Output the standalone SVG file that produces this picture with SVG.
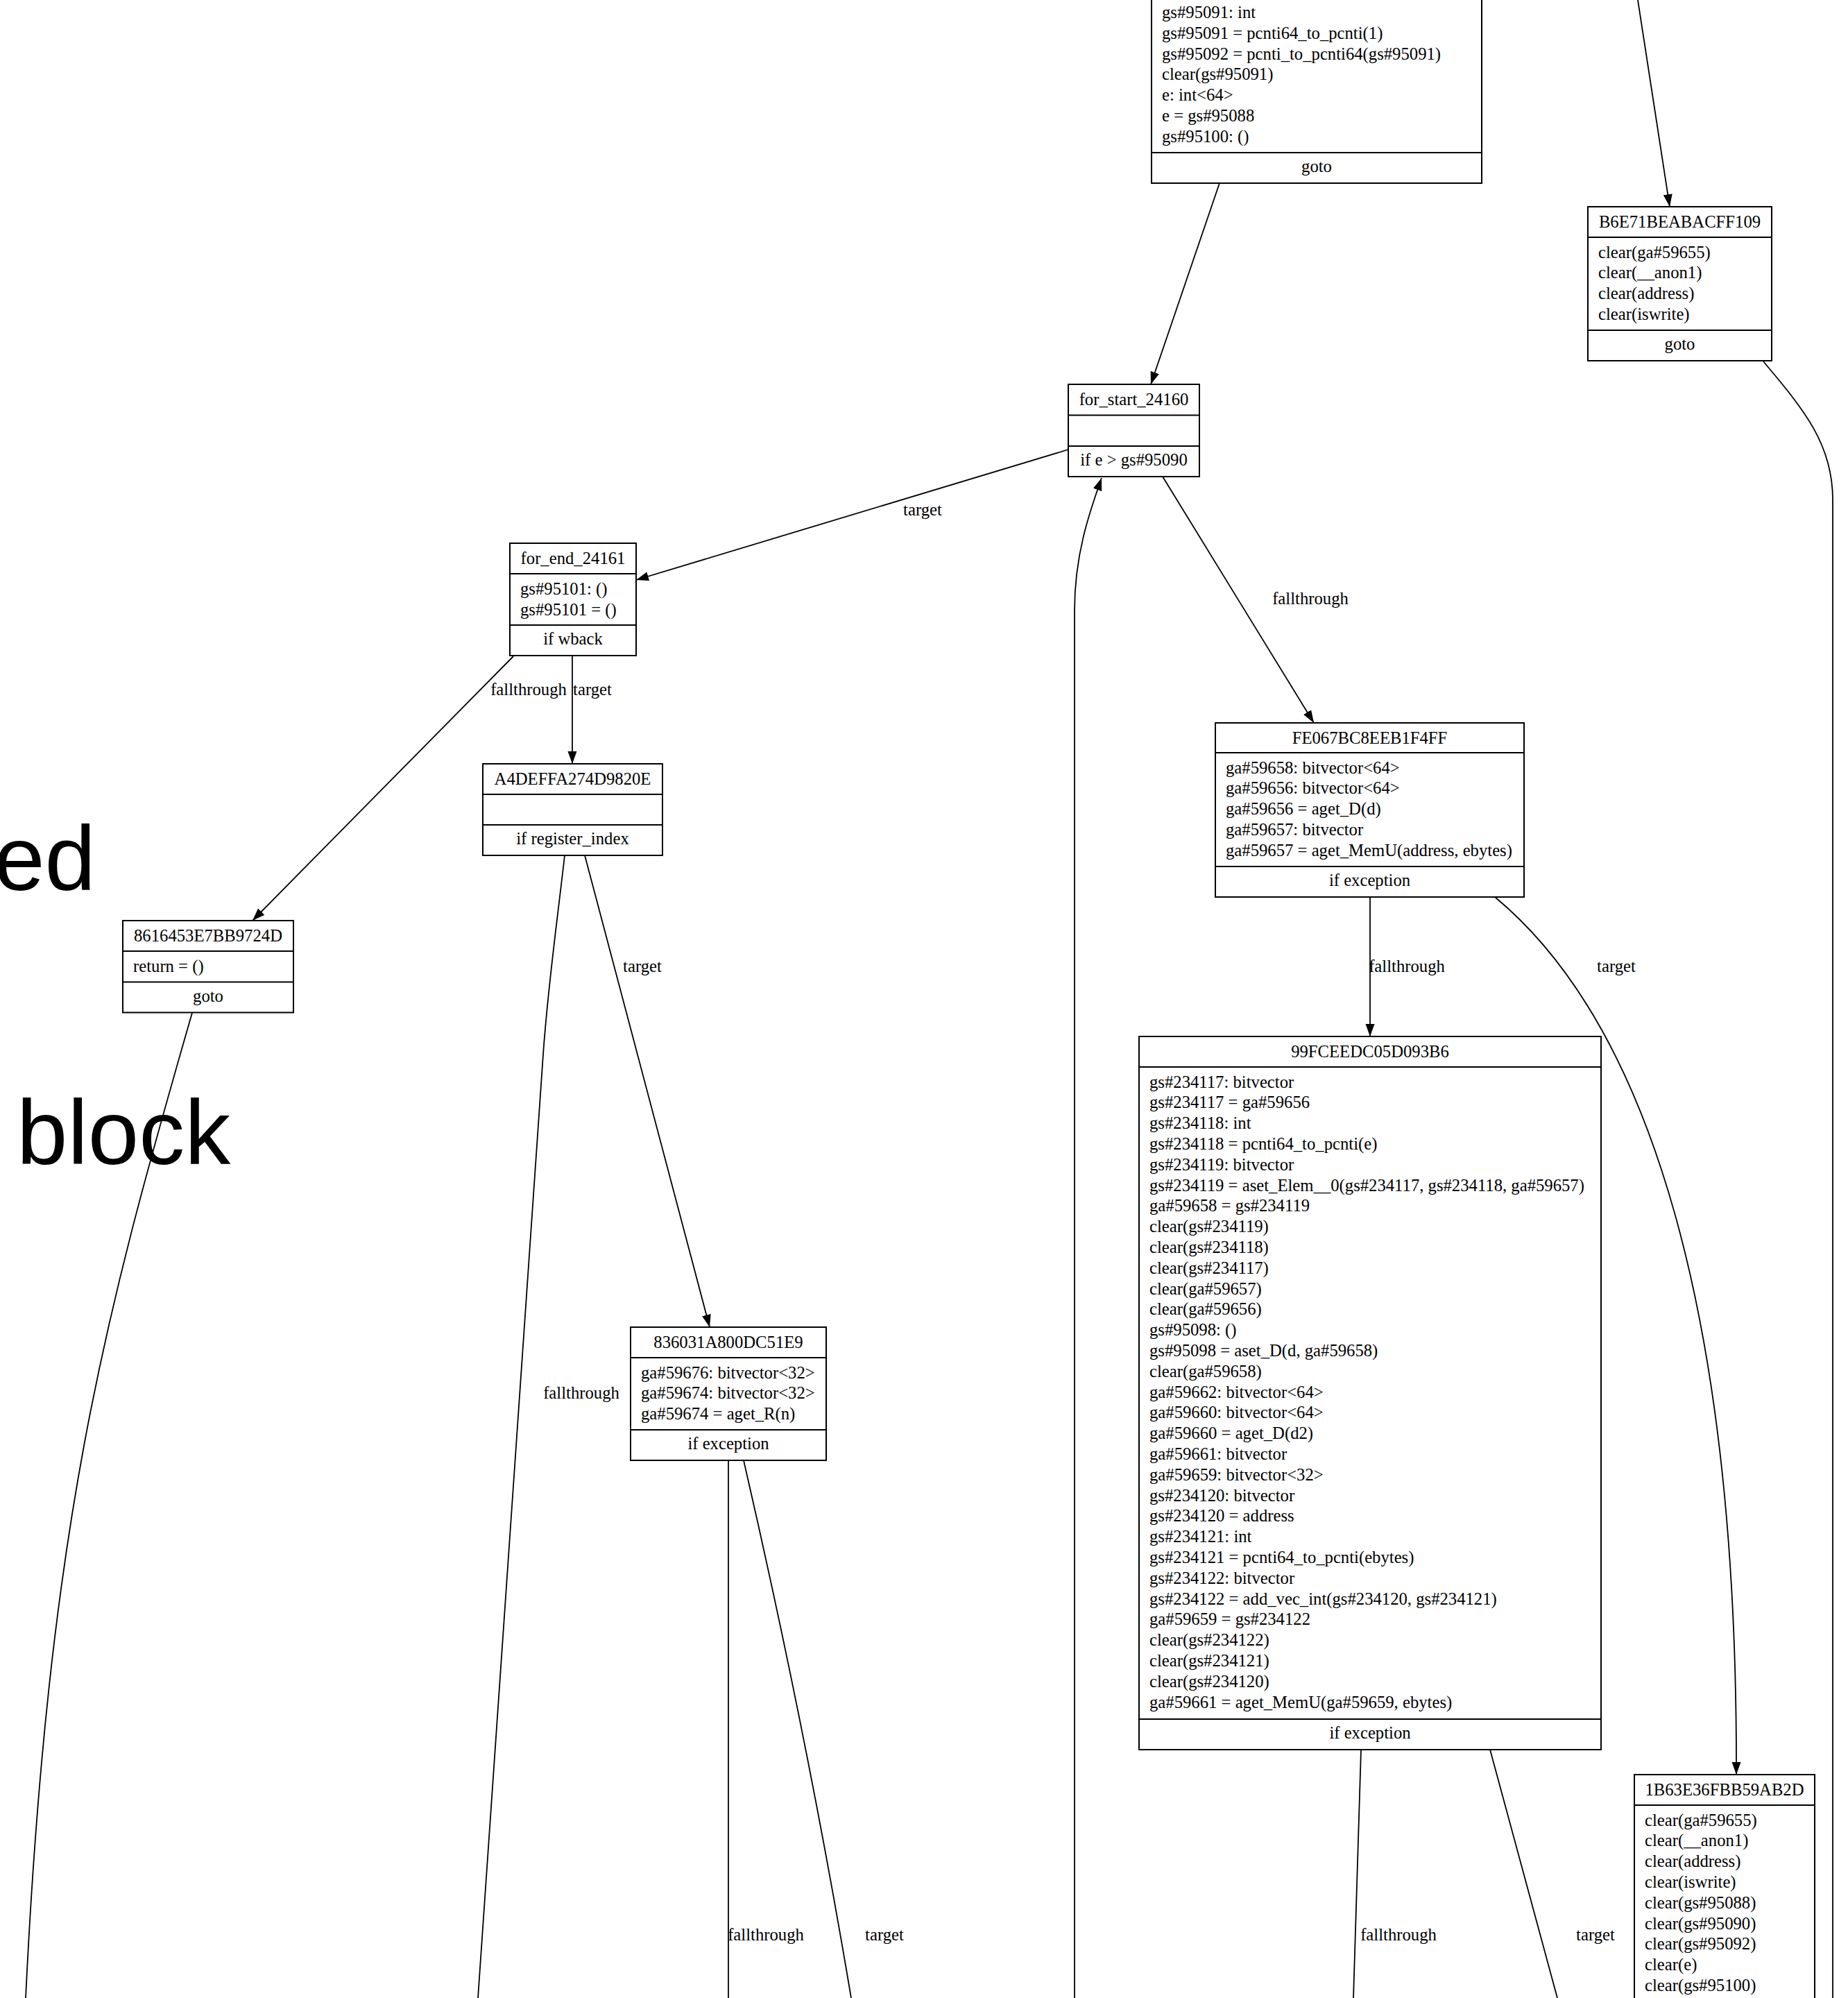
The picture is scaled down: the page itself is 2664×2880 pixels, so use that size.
<svg xmlns="http://www.w3.org/2000/svg" width="2664" height="2880" viewBox="0 0 2664 2880">
  <style>
    .box { fill: #fff; stroke: #000; stroke-width: 2; }
    .sep { stroke: #000; stroke-width: 2; }
    text { font-family: "Liberation Serif", "Times New Roman", serif; font-size: 24.7px; fill: #000; }
    .c { text-anchor: middle; }
    .big { font-family: "Liberation Sans", Arial, sans-serif; font-size: 132px; }
    .edge { fill: none; stroke: #000; stroke-width: 1.8; marker-end: url(#arr); }
    .edge.open { marker-end: none; }
  </style>
  <defs>
    <marker id="arr" markerUnits="userSpaceOnUse" markerWidth="20" markerHeight="14" refX="18" refY="6.5" orient="auto">
      <path d="M0,0 L18,6.5 L0,13 z" fill="#000"/>
    </marker>
  </defs>
  <rect x="0" y="0" width="2664" height="2880" fill="#fff"/>

  <!-- large background label fragments -->
  <text class="big" x="138" y="1283" text-anchor="end">ed</text>
  <text class="big" x="24" y="1678">block</text>

  <!-- connectors -->
  <g id="edges">
    <path class="edge" d="M1758,264 L1659,554"/>
    <path class="edge" d="M2361,0 L2407,298"/>
    <path class="edge open" d="M2542,521 C2600,590 2642,640 2642,720 L2642,2880"/>
    <path class="edge" d="M1540,648 L917,836"/>
    <path class="edge" d="M1676,687 L1894,1042"/>
    <path class="edge" d="M1549,2880 L1549,880 C1549,800 1570,740 1588,689"/>
    <path class="edge" d="M740,946 L364,1327"/>
    <path class="edge" d="M825,946 L825,1101"/>
    <path class="edge open" d="M814,1233 C803,1330 790,1420 783,1520 L689,2880"/>
    <path class="edge" d="M843,1233 L1023,1913"/>
    <path class="edge open" d="M277,1460 C150,1900 70,2200 37,2880"/>
    <path class="edge" d="M1975,1293 L1975,1494"/>
    <path class="edge" d="M2155,1293 C2380,1480 2505,1900 2503,2558"/>
    <path class="edge open" d="M1050,2105 L1050,2880"/>
    <path class="edge open" d="M1072,2105 C1110,2270 1170,2540 1227,2880"/>
    <path class="edge open" d="M1962,2522 L1951,2880"/>
    <path class="edge open" d="M2148,2522 L2245,2880"/>

    <text class="c" x="1330" y="743">target</text>
    <text class="c" x="1889" y="871">fallthrough</text>
    <text class="c" x="762" y="1002">fallthrough</text>
    <text class="c" x="854" y="1002">target</text>
    <text class="c" x="926" y="1401">target</text>
    <text class="c" x="2028" y="1401">fallthrough</text>
    <text class="c" x="2330" y="1401">target</text>
    <text class="c" x="838" y="2016">fallthrough</text>
    <text class="c" x="1104" y="2797">fallthrough</text>
    <text class="c" x="1275" y="2797">target</text>
    <text class="c" x="2016" y="2797">fallthrough</text>
    <text class="c" x="2300" y="2797">target</text>
  </g>

  <!-- block ending in goto (upper part outside the canvas) -->
  <g id="node-top">
    <rect class="box" x="1660" y="-40" width="476" height="304"/>
    <line class="sep" x1="1660" y1="220" x2="2136" y2="220"/>
    <text x="1675" y="26">gs#95091: int</text>
    <text x="1675" y="55.8">gs#95091 = pcnti64_to_pcnti(1)</text>
    <text x="1675" y="85.6">gs#95092 = pcnti_to_pcnti64(gs#95091)</text>
    <text x="1675" y="115.4">clear(gs#95091)</text>
    <text x="1675" y="145.2">e: int&lt;64&gt;</text>
    <text x="1675" y="175">e = gs#95088</text>
    <text x="1675" y="204.8">gs#95100: ()</text>
    <text class="c" x="1898" y="248">goto</text>
  </g>

  <g id="node-B6E71BEABACFF109">
    <rect class="box" x="2289" y="298" width="265" height="222"/>
    <line class="sep" x1="2289" y1="342" x2="2554" y2="342"/>
    <line class="sep" x1="2289" y1="476" x2="2554" y2="476"/>
    <text class="c" x="2421.5" y="328">B6E71BEABACFF109</text>
    <text x="2304" y="371.5">clear(ga#59655)</text>
    <text x="2304" y="401.3">clear(__anon1)</text>
    <text x="2304" y="431.1">clear(address)</text>
    <text x="2304" y="460.9">clear(iswrite)</text>
    <text class="c" x="2421.5" y="504">goto</text>
  </g>

  <g id="node-for_start_24160">
    <rect class="box" x="1540" y="554" width="189" height="133"/>
    <line class="sep" x1="1540" y1="598.5" x2="1729" y2="598.5"/>
    <line class="sep" x1="1540" y1="643" x2="1729" y2="643"/>
    <text class="c" x="1634.5" y="584">for_start_24160</text>
    <text class="c" x="1634.5" y="671">if e &gt; gs#95090</text>
  </g>

  <g id="node-for_end_24161">
    <rect class="box" x="735" y="783" width="182" height="162"/>
    <line class="sep" x1="735" y1="827" x2="917" y2="827"/>
    <line class="sep" x1="735" y1="901" x2="917" y2="901"/>
    <text class="c" x="826" y="813">for_end_24161</text>
    <text x="750" y="857">gs#95101: ()</text>
    <text x="750" y="887">gs#95101 = ()</text>
    <text class="c" x="826" y="929">if wback</text>
  </g>

  <g id="node-A4DEFFA274D9820E">
    <rect class="box" x="696" y="1101" width="259" height="132"/>
    <line class="sep" x1="696" y1="1145" x2="955" y2="1145"/>
    <line class="sep" x1="696" y1="1189" x2="955" y2="1189"/>
    <text class="c" x="825.5" y="1131">A4DEFFA274D9820E</text>
    <text class="c" x="825.5" y="1217">if register_index</text>
  </g>

  <g id="node-8616453E7BB9724D">
    <rect class="box" x="177" y="1327" width="246" height="132.5"/>
    <line class="sep" x1="177" y1="1371" x2="423" y2="1371"/>
    <line class="sep" x1="177" y1="1415.5" x2="423" y2="1415.5"/>
    <text class="c" x="300" y="1357">8616453E7BB9724D</text>
    <text x="192" y="1400.5">return = ()</text>
    <text class="c" x="300" y="1443.5">goto</text>
  </g>

  <g id="node-FE067BC8EEB1F4FF">
    <rect class="box" x="1752" y="1042" width="445" height="251"/>
    <line class="sep" x1="1752" y1="1085" x2="2197" y2="1085"/>
    <line class="sep" x1="1752" y1="1249" x2="2197" y2="1249"/>
    <text class="c" x="1974.5" y="1072">FE067BC8EEB1F4FF</text>
    <text x="1767" y="1114.5">ga#59658: bitvector&lt;64&gt;</text>
    <text x="1767" y="1144.3">ga#59656: bitvector&lt;64&gt;</text>
    <text x="1767" y="1174.1">ga#59656 = aget_D(d)</text>
    <text x="1767" y="1203.9">ga#59657: bitvector</text>
    <text x="1767" y="1233.7">ga#59657 = aget_MemU(address, ebytes)</text>
    <text class="c" x="1974.5" y="1277">if exception</text>
  </g>

  <g id="node-99FCEEDC05D093B6">
    <rect class="box" x="1642" y="1494" width="666" height="1028"/>
    <line class="sep" x1="1642" y1="1538" x2="2308" y2="1538"/>
    <line class="sep" x1="1642" y1="2478" x2="2308" y2="2478"/>
    <text class="c" x="1975" y="1524">99FCEEDC05D093B6</text>
    <text x="1657" y="1567.5">gs#234117: bitvector</text>
    <text x="1657" y="1597.3">gs#234117 = ga#59656</text>
    <text x="1657" y="1627.1">gs#234118: int</text>
    <text x="1657" y="1656.9">gs#234118 = pcnti64_to_pcnti(e)</text>
    <text x="1657" y="1686.7">gs#234119: bitvector</text>
    <text x="1657" y="1716.5">gs#234119 = aset_Elem__0(gs#234117, gs#234118, ga#59657)</text>
    <text x="1657" y="1746.3">ga#59658 = gs#234119</text>
    <text x="1657" y="1776.1">clear(gs#234119)</text>
    <text x="1657" y="1805.9">clear(gs#234118)</text>
    <text x="1657" y="1835.7">clear(gs#234117)</text>
    <text x="1657" y="1865.5">clear(ga#59657)</text>
    <text x="1657" y="1895.3">clear(ga#59656)</text>
    <text x="1657" y="1925.1">gs#95098: ()</text>
    <text x="1657" y="1954.9">gs#95098 = aset_D(d, ga#59658)</text>
    <text x="1657" y="1984.7">clear(ga#59658)</text>
    <text x="1657" y="2014.5">ga#59662: bitvector&lt;64&gt;</text>
    <text x="1657" y="2044.3">ga#59660: bitvector&lt;64&gt;</text>
    <text x="1657" y="2074.1">ga#59660 = aget_D(d2)</text>
    <text x="1657" y="2103.9">ga#59661: bitvector</text>
    <text x="1657" y="2133.7">ga#59659: bitvector&lt;32&gt;</text>
    <text x="1657" y="2163.5">gs#234120: bitvector</text>
    <text x="1657" y="2193.3">gs#234120 = address</text>
    <text x="1657" y="2223.1">gs#234121: int</text>
    <text x="1657" y="2252.9">gs#234121 = pcnti64_to_pcnti(ebytes)</text>
    <text x="1657" y="2282.7">gs#234122: bitvector</text>
    <text x="1657" y="2312.5">gs#234122 = add_vec_int(gs#234120, gs#234121)</text>
    <text x="1657" y="2342.3">ga#59659 = gs#234122</text>
    <text x="1657" y="2372.1">clear(gs#234122)</text>
    <text x="1657" y="2401.9">clear(gs#234121)</text>
    <text x="1657" y="2431.7">clear(gs#234120)</text>
    <text x="1657" y="2461.5">ga#59661 = aget_MemU(ga#59659, ebytes)</text>
    <text class="c" x="1975" y="2506">if exception</text>
  </g>

  <g id="node-836031A800DC51E9">
    <rect class="box" x="909" y="1913" width="282" height="192"/>
    <line class="sep" x1="909" y1="1957" x2="1191" y2="1957"/>
    <line class="sep" x1="909" y1="2061" x2="1191" y2="2061"/>
    <text class="c" x="1050" y="1943">836031A800DC51E9</text>
    <text x="924" y="1986.5">ga#59676: bitvector&lt;32&gt;</text>
    <text x="924" y="2016.3">ga#59674: bitvector&lt;32&gt;</text>
    <text x="924" y="2046.1">ga#59674 = aget_R(n)</text>
    <text class="c" x="1050" y="2089">if exception</text>
  </g>

  <g id="node-1B63E36FBB59AB2D">
    <rect class="box" x="2356" y="2558" width="260" height="400"/>
    <line class="sep" x1="2356" y1="2602" x2="2616" y2="2602"/>
    <text class="c" x="2486" y="2588">1B63E36FBB59AB2D</text>
    <text x="2371" y="2631.5">clear(ga#59655)</text>
    <text x="2371" y="2661.3">clear(__anon1)</text>
    <text x="2371" y="2691.1">clear(address)</text>
    <text x="2371" y="2720.9">clear(iswrite)</text>
    <text x="2371" y="2750.7">clear(gs#95088)</text>
    <text x="2371" y="2780.5">clear(gs#95090)</text>
    <text x="2371" y="2810.3">clear(gs#95092)</text>
    <text x="2371" y="2840.1">clear(e)</text>
    <text x="2371" y="2869.9">clear(gs#95100)</text>
  </g>
</svg>
